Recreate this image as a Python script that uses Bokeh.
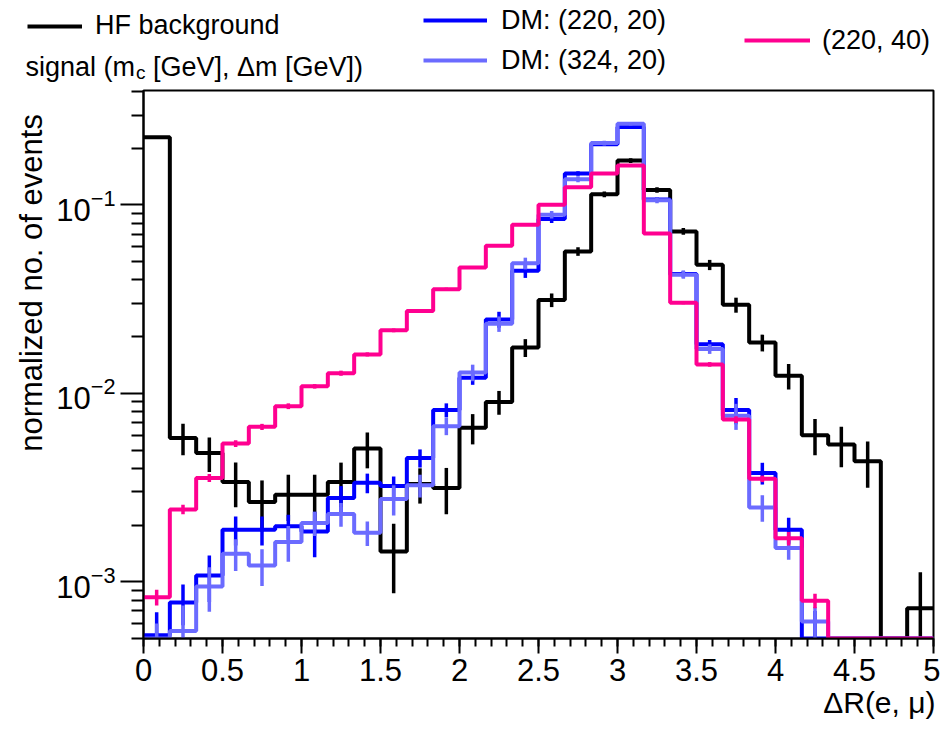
import numpy as np
from bokeh.plotting import figure
from bokeh.layouts import column
from bokeh.models import (Range1d, FixedTicker, NumeralTickFormatter, Label, Title,
                          Legend, LegendItem, ColumnDataSource)
from bokeh.embed import file_html
from bokeh.resources import INLINE

# ---------------- data ----------------
bin_edges = [i / 6 for i in range(31)]          # 30 bins of width 1/6 on [0, 5]

hf_background = [0.229, 0.0058, 0.00483, 0.00339, 0.00265, 0.0029, 0.0029, 0.00339,
                 0.0051, 0.00145, 0.0033, 0.00315, 0.00656, 0.0090, 0.0175, 0.0313,
                 0.0567, 0.114, 0.172, 0.120, 0.0724, 0.0481, 0.0295, 0.0186,
                 0.0124, 0.0060, 0.00535, 0.00436, 0.0, 0.000724]
hf_background_err = [0.003, 0.0011, 0.0010, 0.0009, 0.0008, 0.0008, 0.0008, 0.0009,
                     0.0011, 0.00058, 0.0007, 0.00087, 0.0012, 0.0013, 0.0019, 0.0026,
                     0.003, 0.004, 0.005, 0.004, 0.003, 0.003, 0.0027, 0.0019,
                     0.0019, 0.0013, 0.0013, 0.0012, 0.0, 0.0004]

dm_220_20 = [0.00052, 0.000777, 0.00108, 0.00189, 0.00189, 0.00197, 0.00185, 0.00278,
             0.00335, 0.00322, 0.00454, 0.00815, 0.0121, 0.0247, 0.0448, 0.0842,
             0.147, 0.21, 0.259, 0.107, 0.043, 0.0182, 0.00815, 0.00378,
             0.00189, 0.0005, 0.0, 0.0, 0.0, 0.0]
dm_220_20_err = [0.00017, 0.00019, 0.0003, 0.00033, 0.00033, 0.0003, 0.0005, 0.00044,
                 0.0004, 0.0004, 0.0005, 0.0007, 0.001, 0.0024, 0.0038, 0.004,
                 0.004, 0.004, 0.004, 0.003, 0.0018, 0.001, 0.0013, 0.0005,
                 0.0003, 0.0002, 0.0, 0.0, 0.0, 0.0]

dm_324_20 = [0.0005, 0.000548, 0.000944, 0.00141, 0.00122, 0.001626, 0.00205, 0.00229,
             0.00182, 0.00275, 0.00325, 0.0067, 0.0129, 0.0234, 0.049, 0.0888,
             0.137, 0.213, 0.27, 0.106, 0.0426, 0.0172, 0.0076, 0.00248,
             0.00151, 0.000615, 0.0, 0.0, 0.0, 0.0]
dm_324_20_err = [0.0001, 0.0002, 0.00025, 0.00027, 0.00027, 0.00035, 0.0003, 0.00033,
                 0.00027, 0.0005, 0.00045, 0.0007, 0.0013, 0.0022, 0.0035, 0.004,
                 0.005, 0.006, 0.006, 0.004, 0.002, 0.001, 0.0012, 0.0004,
                 0.0002, 0.00012, 0.0, 0.0, 0.0, 0.0]

sig_220_40 = [0.000828, 0.00242, 0.00356, 0.00542, 0.00664, 0.00855, 0.0109, 0.0128,
              0.0161, 0.0216, 0.0274, 0.0357, 0.0466, 0.0607, 0.0786, 0.1004,
              0.124, 0.147, 0.162, 0.0706, 0.0303, 0.01425, 0.00726, 0.00352,
              0.0017, 0.000794, 0.0, 0.0, 0.0, 0.0]
sig_220_40_err = [0.00008, 0.00014, 0.00017, 0.00022, 0.00025, 0.0003, 0.0003, 0.0004,
                  0.0004, 0.0005, 0.0006, 0.0007, 0.0008, 0.0009, 0.001, 0.0011,
                  0.0012, 0.0013, 0.0014, 0.0009, 0.0006, 0.0004, 0.0003, 0.00014,
                  0.00014, 0.00007, 0.0, 0.0, 0.0, 0.0]

series_labels = ["HF background", "DM: (220, 20)", "DM: (324, 20)", "(220, 40)"]
series_colors = ["#000000", "#0000ff", "#6b6bff", "#ff0090"]

x_major = [0, 0.5, 1, 1.5, 2, 2.5, 3, 3.5, 4, 4.5, 5]
x_minor = [k / 10 for k in range(51)]
y_major = [1e-3, 1e-2, 1e-1]
y_minor = [m * 10.0 ** e for e in (-4, -3, -2, -1) for m in range(2, 10)]

Y_MIN, Y_MAX = 5e-4, 0.405
FONT = "Liberation Sans"

# ---------------- geometry (page pixels) ----------------
W = 940
HT = 86            # legend strip height
HM = 641           # main figure height
F_LEFT, F_RIGHT, F_TOP, F_BOT = 143, 933, 90, 638

# ---------------- main figure ----------------
p = figure(width=W, height=HM, y_axis_type="log",
           x_range=Range1d(0, 5), y_range=Range1d(Y_MIN, Y_MAX),
           output_backend="svg", toolbar_location=None, title=None,
           min_border_left=F_LEFT, min_border_right=W - F_RIGHT,
           min_border_top=F_TOP - HT, min_border_bottom=HT + HM - F_BOT)
p.frame_align = False
p.background_fill_color = "white"
p.border_fill_color = "white"
p.outline_line_color = "black"
p.outline_line_width = 2
p.grid.visible = False

edges = np.array(bin_edges)
centers = 0.5 * (edges[:-1] + edges[1:])

def add_hist(vals, errs, color):
    v = np.array(vals, dtype=float)
    e = np.array(errs, dtype=float)
    yd = np.maximum(v, Y_MIN)
    ys = np.append(yd, yd[-1])
    r = p.step(x=edges, y=ys, mode="after", line_color=color, line_width=4)
    lo = np.where(v > 0, np.maximum(v - e, 1e-7), np.nan)
    hi = np.where(v > 0, v + e, np.nan)
    src = ColumnDataSource(dict(x=centers, lo=lo, hi=hi))
    p.segment(x0="x", y0="lo", x1="x", y1="hi", source=src,
              line_color=color, line_width=3.5)
    return r

all_vals = [hf_background, dm_220_20, dm_324_20, sig_220_40]
all_errs = [hf_background_err, dm_220_20_err, dm_324_20_err, sig_220_40_err]
for v, e, c in zip(all_vals, all_errs, series_colors):
    add_hist(v, e, c)

xa = p.xaxis[0]
xa.ticker = FixedTicker(ticks=x_major, minor_ticks=x_minor)
xa.formatter = NumeralTickFormatter(format="0.[0]")
ya = p.yaxis[0]
ya.ticker = FixedTicker(ticks=y_major, minor_ticks=y_minor)
for ax, (mj, mn) in ((xa, (15, 8)), (ya, (23, 12))):
    ax.axis_line_width = 2
    ax.axis_line_color = "black"
    ax.major_tick_in = 0
    ax.minor_tick_in = 0
    ax.major_tick_out = mj
    ax.minor_tick_out = mn
    ax.major_tick_line_width = 2
    ax.minor_tick_line_width = 2
    ax.major_label_text_font = FONT
    ax.major_label_text_font_size = "31px"
    ax.major_label_text_color = "black"
xa.major_label_standoff = 5
ya.major_label_standoff = 5

p.add_layout(Title(text="normalized no. of events", align="right", offset=23.6,
                   standoff=10, text_font=FONT, text_font_size="31px",
                   text_font_style="normal", text_color="black"), "left")
p.add_layout(Title(text="\u0394R(e, \u03bc)", align="right", offset=-2, standoff=0,
                   text_font=FONT, text_font_size="30px",
                   text_font_style="normal", text_color="black"), "below")

# ---------------- legend strip ----------------
top = figure(width=W, height=HT, x_range=Range1d(0, 1), y_range=Range1d(0, 1),
             output_backend="svg", toolbar_location=None, title=None,
             x_axis_location=None, y_axis_location=None,
             min_border_left=0, min_border_right=0, min_border_top=0, min_border_bottom=0)
top.frame_align = False
top.outline_line_color = None
top.grid.visible = False
top.background_fill_color = "white"
top.border_fill_color = "white"

keys = [top.line(x=[np.nan], y=[np.nan], line_color=c, line_width=4) for c in series_colors]

def add_legend(idx_list, left, top_y, gw, standoff):
    items = [LegendItem(label=series_labels[i], renderers=[keys[i]]) for i in idx_list]
    n = len(items)
    leg = Legend(items=items, location=(left, HT - (top_y + 40 * n)),
                 orientation="vertical", glyph_width=gw, glyph_height=40,
                 label_height=40, label_standoff=standoff, padding=0, margin=0,
                 spacing=0, border_line_alpha=0, background_fill_alpha=0,
                 label_text_font=FONT, label_text_font_size="27px",
                 label_text_color="black")
    top.add_layout(leg)

add_legend([0], 27, 5.5, 55, 13)
add_legend([1, 2], 423, 0, 64, 14)
add_legend([3], 744, 20, 66, 12)

def lab(text, ix, iy, size):
    top.add_layout(Label(x=ix, y=HT - iy, x_units="screen", y_units="screen",
                         text=text, text_font=FONT, text_font_size=size,
                         text_color="black", text_baseline="alphabetic"))

lab("signal (m", 25, 66, "27px")
lab("c", 135.5, 72, "19px")
lab("[GeV], \u0394m [GeV])", 152.5, 66, "27px")

open("out.html", "w").write(file_html(column(top, p), INLINE))
